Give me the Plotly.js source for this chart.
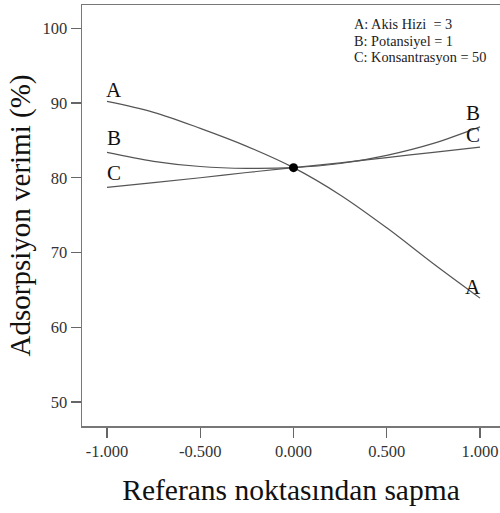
<!DOCTYPE html>
<html>
<head>
<meta charset="utf-8">
<script src="https://cdn.plot.ly/plotly-3.0.1.min.js"></script>
<style>html,body{margin:0;padding:0;background:#fff;}#chart{width:500px;height:513px;}</style>
</head>
<body>
<div id="chart"></div>
<script>
var devX = [-1, -0.75, -0.5, -0.25, 0, 0.25, 0.5, 0.75, 1];
var seriesA = [90.2, 88.75, 86.6, 84.2, 81.35, 77.7, 73.3, 68.5, 63.9];
var seriesB = [83.4, 82.2, 81.5, 81.25, 81.35, 81.9, 83.0, 84.6, 86.8];
var seriesC = [78.7, 79.35, 80.0, 80.7, 81.35, 82.0, 82.7, 83.4, 84.1];
var refX = [0];
var refY = [81.35];
var xTicks = [-1, -0.5, 0, 0.5, 1];
var xTickText = ['-1.000', '-0.500', '0.000', '0.500', '1.000'];
var yTicks = [50, 60, 70, 80, 90, 100];
var yTickText = ['50', '60', '70', '80', '90', '100'];
var legendLines = ['A: Akis Hizi \u00a0= 3', 'B: Potansiyel = 1', 'C: Konsantrasyon = 50'];

var serif = 'Liberation Serif, serif';
var lineStyle = {color: '#555', width: 1.2, shape: 'spline'};

var traces = [
  {x: devX, y: seriesA, mode: 'lines', line: lineStyle, hoverinfo: 'skip'},
  {x: devX, y: seriesB, mode: 'lines', line: lineStyle, hoverinfo: 'skip'},
  {x: devX, y: seriesC, mode: 'lines', line: lineStyle, hoverinfo: 'skip'},
  {x: refX, y: refY, mode: 'markers', marker: {color: '#000', size: 9}}
];

var labelFont = {family: serif, size: 21, color: '#111'};
var annotations = [
  {x: -0.96, y: 91.8, text: 'A'},
  {x: -0.96, y: 85.3, text: 'B'},
  {x: -0.96, y: 80.6, text: 'C'},
  {x: 0.96, y: 88.6, text: 'B'},
  {x: 0.96, y: 85.7, text: 'C'},
  {x: 0.96, y: 65.4, text: 'A'}
].map(function(a){ return {x: a.x, y: a.y, text: a.text, showarrow: false, xref: 'x', yref: 'y', xanchor: 'center', yanchor: 'middle', font: labelFont}; });

var legY = [100.6, 98.25, 96.1];
legendLines.forEach(function(t, i){
  annotations.push({x: 0.312, y: legY[i], text: t, showarrow: false, xref: 'x', yref: 'y', xanchor: 'left', yanchor: 'middle', font: {family: serif, size: 14.3, color: '#222'}});
});

var layout = {
  width: 500, height: 513,
  margin: {l: 82, r: 0, t: 5, b: 87},
  paper_bgcolor: '#fff', plot_bgcolor: '#fff',
  showlegend: false,
  xaxis: {
    range: [-1.134, 1.107], tickvals: xTicks, ticktext: xTickText,
    ticks: 'outside', ticklen: 10, tickcolor: '#666', tickwidth: 1.3,
    showline: true, linecolor: '#777', linewidth: 1.5, mirror: true,
    showgrid: false, zeroline: false,
    tickfont: {family: serif, size: 16.5, color: '#333'},
    title: {text: 'Referans noktasından sapma', font: {family: serif, size: 29.5, color: '#111'}, standoff: 19}
  },
  yaxis: {
    range: [46.8, 103.1], tickvals: yTicks, ticktext: yTickText,
    ticks: 'outside', ticklen: 10, tickcolor: '#666', tickwidth: 1.3,
    showline: true, linecolor: '#777', linewidth: 1.5,
    showgrid: false, zeroline: false,
    tickfont: {family: serif, size: 16.5, color: '#333'},
    title: {text: 'Adsorpsiyon verimi (%)', font: {family: serif, size: 29, color: '#111'}, standoff: 3}
  },
  annotations: annotations
};

Plotly.newPlot('chart', traces, layout, {staticPlot: true});
</script>
</body>
</html>
